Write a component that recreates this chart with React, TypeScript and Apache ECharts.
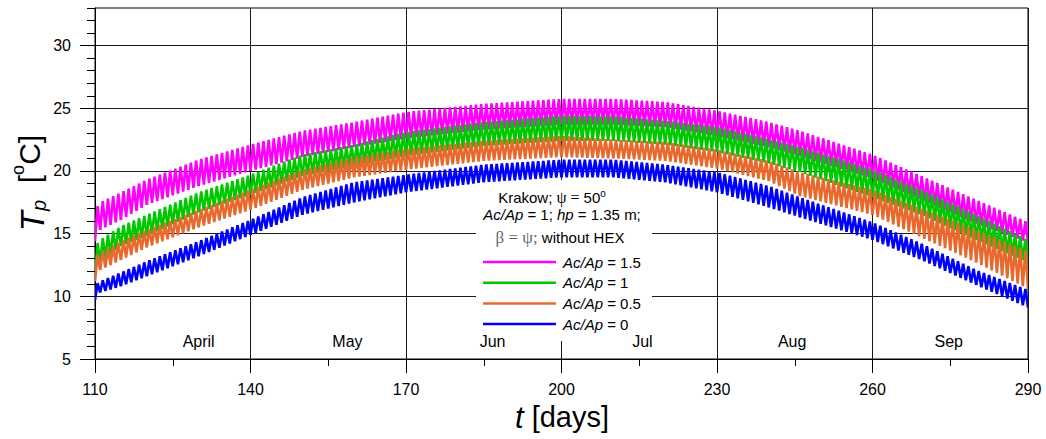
import React, { useEffect, useRef } from "react";
import * as echarts from "echarts";

// Envelope of the daily oscillation (daily max "hi" and daily min "lo")
const envDays = [110, 111, 115, 120, 130, 140, 150, 160, 170, 185, 200, 210, 220, 230, 240, 246, 260, 270, 280, 290];

const hi15 = [16.9, 17.5, 18.3, 19.3, 20.9, 22.1, 23.2, 23.9, 24.7, 25.35, 25.75, 25.75, 25.5, 24.8, 23.9, 23.2, 21.3, 19.5, 17.7, 15.9];
const lo15 = [14.4, 15.3, 16.1, 17.3, 18.8, 20.0, 21.1, 21.9, 22.6, 23.3, 23.7, 23.7, 23.5, 22.8, 21.9, 21.2, 19.4, 17.6, 15.8, 14.3];

const hi10 = [14.0, 14.5, 15.6, 16.5, 18.3, 19.7, 21.3, 22.1, 23.1, 23.9, 24.4, 24.35, 24.0, 23.5, 22.5, 21.9, 20.1, 18.4, 16.5, 14.5];
const lo10 = [11.5, 12.7, 14.0, 14.8, 16.7, 18.1, 19.6, 20.4, 21.2, 22.0, 22.4, 22.4, 22.1, 21.5, 20.6, 19.9, 17.9, 16.4, 14.5, 12.7];

const hi05 = [13.1, 13.5, 14.4, 15.3, 16.9, 18.5, 20.1, 21.1, 21.75, 22.4, 22.8, 22.5, 22.3, 21.7, 20.8, 19.9, 18.5, 16.9, 15.3, 13.6];
const lo05 = [11.2, 12.1, 12.9, 13.9, 15.5, 16.9, 18.5, 19.5, 20.1, 20.8, 21.1, 21.0, 20.8, 20.2, 19.2, 18.0, 16.5, 14.6, 12.7, 10.6];

const hi00 = [10.9, 11.2, 11.9, 12.8, 14.4, 16.1, 17.9, 19.1, 19.7, 20.5, 20.9, 20.9, 20.5, 19.9, 18.8, 17.9, 15.9, 14.1, 12.1, 10.5];
const lo00 = [9.7, 10.3, 10.8, 11.6, 13.2, 14.9, 16.5, 17.5, 18.3, 19.1, 19.5, 19.5, 19.1, 18.3, 17.1, 16.3, 14.5, 12.8, 10.9, 9.1];

const ratioValues = ["1.5", "1", "0.5", "0"];
const seriesColors = ["#FF00FF", "#00C800", "#E8692E", "#0000FF"];

const monthNames = ["April", "May", "Jun", "Jul", "Aug", "Sep"];
const monthDays = [130, 158.7, 186.7, 215.6, 244.5, 274.7];
const monthLabelLevel = 6.4;

const xTickValues = [110, 140, 170, 200, 230, 260, 290];
const xMinorTickValues = [125, 155, 185, 215, 245, 275];
const yTickValues = [5, 10, 15, 20, 25, 30];

const SANS = "'Liberation Sans', Arial, sans-serif";
const SERIF = "'Liberation Serif', 'DejaVu Serif', serif";

function segments(hi: number[], lo: number[]) {
  const out: number[][] = [];
  for (let i = 0; i < envDays.length - 1; i++) {
    out.push([envDays[i], envDays[i + 1], hi[i], lo[i], hi[i + 1], lo[i + 1]]);
  }
  return out;
}

export default function App() {
  const ref = useRef<HTMLDivElement>(null);

  useEffect(() => {
    if (!ref.current) return;
    const chart = echarts.init(ref.current, undefined, { renderer: "svg" });

    const envelopes = [
      [hi15, lo15],
      [hi10, lo10],
      [hi05, lo05],
      [hi00, lo00],
    ];

    const curveSeries = envelopes.map(([hi, lo], si) => ({
      type: "custom",
      name: "Ac/Ap = " + ratioValues[si],
      xAxisIndex: 0,
      yAxisIndex: 0,
      clip: true,
      z: 3 + si,
      encode: { x: [0, 1], y: [2, 3, 4, 5] },
      data: segments(hi, lo),
      renderItem: (params: any, api: any) => {
        const d0 = api.value(0);
        const d1 = api.value(1);
        const h0 = api.value(2);
        const l0 = api.value(3);
        const h1 = api.value(4);
        const l1 = api.value(5);
        const pts: number[][] = [];
        const n = Math.round((d1 - d0) * 2);
        for (let k = 0; k <= n; k++) {
          const t = d0 + k / 2;
          const f = (t - d0) / (d1 - d0);
          const v = k % 2 === 0 ? l0 + (l1 - l0) * f : h0 + (h1 - h0) * f;
          pts.push(api.coord([t, v]));
        }
        return {
          type: "polyline",
          shape: { points: pts },
          style: { stroke: seriesColors[si], lineWidth: 2.6, fill: "none" },
        };
      },
    }));

    const legendGraphics: any[] = [];
    ratioValues.forEach((r, i) => {
      const y = 262 + i * 20.7;
      legendGraphics.push({
        type: "line",
        z: 20,
        shape: { x1: 483, y1: y, x2: 556, y2: y },
        style: { stroke: seriesColors[i], lineWidth: 2.5 },
      });
      legendGraphics.push({
        type: "text",
        z: 20,
        x: 563,
        y: y,
        style: {
          text: "{i|Ac/Ap} = " + r,
          fontSize: 15,
          fontFamily: SANS,
          fill: "#000",
          align: "left",
          verticalAlign: "middle",
          rich: { i: { fontStyle: "italic", fontSize: 15, fontFamily: SANS, fill: "#000" } },
        },
      });
    });

    const option: any = {
      animation: false,
      backgroundColor: "#fff",
      grid: { left: 95, right: 18, top: 8, bottom: 80, show: true, borderColor: "#000", borderWidth: 1, containLabel: false, outerBoundsMode: "none" },
      xAxis: [
        {
          type: "value",
          position: "bottom",
          min: 110,
          max: 290,
          interval: 10,
          axisLine: { show: true, lineStyle: { color: "#000", width: 1 } },
          axisTick: { show: true, customValues: xTickValues, length: 14, lineStyle: { color: "#000", width: 1 } },
          axisLabel: { show: true, customValues: xTickValues, margin: 22, fontSize: 16, fontFamily: SANS, color: "#000" },
          splitLine: { show: true, lineStyle: { color: "#1a1a1a", width: 1 } },
        },
        {
          type: "value",
          position: "bottom",
          min: 110,
          max: 290,
          interval: 10,
          axisLine: { show: false },
          axisTick: { show: true, customValues: xMinorTickValues, length: 7, lineStyle: { color: "#000", width: 1 } },
          axisLabel: { show: false },
          splitLine: { show: false },
        },
      ],
      yAxis: [
        {
          type: "value",
          position: "left",
          min: 5,
          max: 33,
          interval: 1,
          axisLine: { show: true, lineStyle: { color: "#000", width: 1 } },
          axisTick: { show: true, length: 8, lineStyle: { color: "#000", width: 1 } },
          axisLabel: { show: true, customValues: yTickValues, margin: 24, fontSize: 16, fontFamily: SANS, color: "#000" },
          splitLine: {
            show: true,
            lineStyle: { color: ["#1a1a1a", "transparent", "transparent", "transparent", "transparent"], width: 1 },
          },
        },
        {
          type: "value",
          position: "left",
          min: 5,
          max: 33,
          interval: 5,
          axisLine: { show: false },
          axisTick: { show: true, customValues: yTickValues, length: 15, lineStyle: { color: "#000", width: 1 } },
          axisLabel: { show: false },
          splitLine: { show: false },
        },
      ],
      series: [
        ...curveSeries,
        {
          type: "scatter",
          xAxisIndex: 0,
          yAxisIndex: 0,
          silent: true,
          z: 10,
          symbolSize: 1,
          itemStyle: { color: "#fff", opacity: 0 },
          label: {
            show: true,
            position: "inside",
            formatter: "{b}",
            fontSize: 16,
            fontFamily: SANS,
            color: "#000",
            opacity: 1,
            textBorderWidth: 0,
            textBorderColor: "transparent",
          },
          data: monthNames.map((n, i) => ({ name: n, value: [monthDays[i], monthLabelLevel] })),
        },
      ],
      graphic: [
        { type: "rect", z: 1, silent: true, shape: { x: 476, y: 180, width: 176, height: 161 }, style: { fill: "#fff" } },
        {
          type: "text",
          z: 20,
          x: 552,
          y: 197,
          style: {
            text: "Krakow; {s|\u03C8 = }50{sup|o}",
            fontSize: 15,
            fontFamily: SANS,
            fill: "#000",
            align: "center",
            verticalAlign: "middle",
            rich: {
              s: { fontFamily: SERIF, fontSize: 16, fill: "#000" },
              sup: { fontSize: 10, fontFamily: SANS, fill: "#000", verticalAlign: "top", lineHeight: 18 },
            },
          },
        },
        {
          type: "text",
          z: 20,
          x: 562,
          y: 214,
          style: {
            text: "{i|Ac/Ap} = 1; {i|hp} = 1.35 m;",
            fontSize: 15,
            fontFamily: SANS,
            fill: "#000",
            align: "center",
            verticalAlign: "middle",
            rich: { i: { fontStyle: "italic", fontSize: 15, fontFamily: SANS, fill: "#000" } },
          },
        },
        {
          type: "text",
          z: 20,
          x: 560,
          y: 237,
          style: {
            text: "{g|\u03B2 = \u03C8;} without HEX",
            fontSize: 15,
            fontFamily: SANS,
            fill: "#000",
            align: "center",
            verticalAlign: "middle",
            rich: { g: { fontFamily: SERIF, fontSize: 17, fill: "#666" } },
          },
        },
        ...legendGraphics,
        {
          type: "text",
          z: 20,
          x: 29,
          y: 183,
          rotation: Math.PI / 2,
          style: {
            text: "{t|T}{p|p}  [{o|o}C]",
            fontSize: 30,
            fontFamily: SANS,
            fill: "#000",
            align: "center",
            verticalAlign: "middle",
            rich: {
              t: { fontStyle: "italic", fontSize: 33, fontFamily: SANS, fill: "#000", verticalAlign: "bottom", lineHeight: 40 },
              p: { fontStyle: "italic", fontSize: 20, fontFamily: SANS, fill: "#000", verticalAlign: "bottom", lineHeight: 34 },
              o: { fontSize: 18, fontFamily: SANS, fill: "#000", verticalAlign: "top", lineHeight: 40 },
            },
          },
        },
        {
          type: "text",
          z: 20,
          x: 562,
          y: 417,
          style: {
            text: "{t|t} [days]",
            fontSize: 29,
            fontFamily: SANS,
            fill: "#000",
            align: "center",
            verticalAlign: "middle",
            rich: { t: { fontStyle: "italic", fontSize: 31, fontFamily: SANS, fill: "#000" } },
          },
        },
      ],
    };

    chart.setOption(option);
    return () => chart.dispose();
  }, []);

  return <div ref={ref} style={{ position: "fixed", left: 0, top: 0, width: 1046, height: 439 }} />;
}
